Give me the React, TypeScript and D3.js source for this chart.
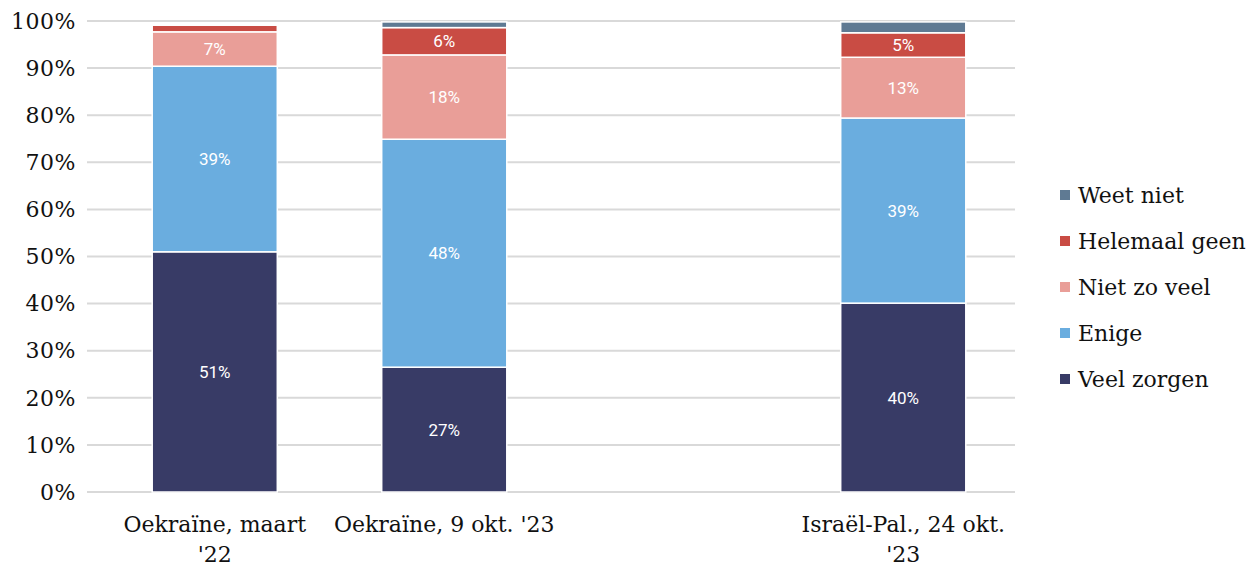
import React, { useRef, useEffect } from 'react'
import * as d3 from 'd3'

// category labels, '\n' marks the line break of the axis label
const categories = ["Oekraïne, maart\n'22", "Oekraïne, 9 okt. '23", '', "Israël-Pal., 24 okt.\n'23"]
const seriesNames = ['Veel zorgen', 'Enige', 'Niet zo veel', 'Helemaal geen', 'Weet niet']
const seriesColors = ['#383b66', '#6aaddf', '#e99e98', '#c94c44', '#5f7a93']
// values per category, same order as seriesNames (null = empty slot)
const veelZorgen = [51, 26.5, null, 40.1]
const enige = [39.4, 48.4, null, 39.3]
const nietZoVeel = [7.3, 17.9, null, 12.9]
const helemaalGeen = [1.4, 5.8, null, 5.2]
const weetNiet = [0, 1.2, null, 2.3]
const yTicks = [0, 10, 20, 30, 40, 50, 60, 70, 80, 90, 100]

const W = 1256
const H = 564
const serif = '"DejaVu Serif", "Liberation Serif", serif'
const fs = '22px'

export default function App() {
  const svgRef = useRef<SVGSVGElement>(null)

  useEffect(() => {
    if (!svgRef.current) return
    const svg = d3.select(svgRef.current)
    svg.selectAll('*').remove()

    const x = d3.scaleBand<string>().domain(categories.map((c, i) => String(i))).range([100, 1018]).padding(0)
    const y = d3.scaleLinear().domain([0, 100]).range([492, 21])
    const barW = x.bandwidth() * 0.545

    // grid
    svg.append('g')
      .selectAll('line')
      .data(yTicks)
      .join('line')
      .attr('x1', 87).attr('x2', 1015)
      .attr('y1', d => y(d)).attr('y2', d => y(d))
      .attr('stroke', '#d9d9d9')
      .attr('stroke-width', 2)

    svg.append('g')
      .selectAll('text')
      .data(yTicks)
      .join('text')
      .attr('x', 76).attr('y', d => y(d))
      .attr('dy', '0.35em')
      .attr('text-anchor', 'end')
      .style('font-family', serif)
      .style('font-size', fs)
      .style('letter-spacing', '0.5px')
      .attr('fill', '#111')
      .text(d => d + '%')

    // stacked bars
    const allSeries = [veelZorgen, enige, nietZoVeel, helemaalGeen, weetNiet]
    const rows = categories.map((c, i) => {
      const r: any = { key: String(i) }
      seriesNames.forEach((s, j) => { r[s] = allSeries[j][i] ?? 0 })
      return r
    })
    const stack = d3.stack<any>().keys(seriesNames)(rows)

    stack.forEach((layer, j) => {
      const g = svg.append('g')
      layer.forEach(seg => {
        const v = seg[1] - seg[0]
        if (v <= 0) return
        const cx = x(seg.data.key)! + x.bandwidth() / 2
        g.append('rect')
          .attr('x', cx - barW / 2)
          .attr('width', barW)
          .attr('y', y(seg[1]))
          .attr('height', y(seg[0]) - y(seg[1]))
          .attr('fill', seriesColors[j])
          .attr('stroke', '#fff')
          .attr('stroke-width', 1.5)
        if (v >= 3) {
          g.append('text')
            .attr('x', cx)
            .attr('y', y((seg[0] + seg[1]) / 2))
            .attr('dy', '0.36em')
            .attr('text-anchor', 'middle')
            .attr('fill', '#fff')
            .style('font-family', 'Roboto, sans-serif')
            .style('font-size', '17px')
            .text(Math.round(v) + '%')
        }
      })
    })

    // x labels
    const xl = svg.append('g')
    categories.forEach((c, i) => {
      if (!c) return
      const cx = x(String(i))! + x.bandwidth() / 2
      const t = xl.append('text')
        .attr('x', cx).attr('y', 532)
        .attr('text-anchor', 'middle')
        .style('font-family', serif)
        .style('font-size', fs)
        .attr('fill', '#111')
      c.split('\n').forEach((ln, k) => {
        t.append('tspan').attr('x', cx).attr('dy', k === 0 ? 0 : '1.36em').text(ln)
      })
    })

    // legend (top to bottom: reverse order)
    const legendItems = seriesNames.map((s, i) => ({ s, c: seriesColors[i] })).reverse()
    const lg = svg.append('g')
    legendItems.forEach((d, i) => {
      const ly = 195 + i * 46
      lg.append('rect').attr('x', 1060).attr('y', ly - 5).attr('width', 10).attr('height', 10).attr('fill', d.c)
      lg.append('text')
        .attr('x', 1078).attr('y', ly)
        .attr('dy', '0.35em')
        .style('font-family', serif)
        .style('font-size', fs)
        .attr('fill', '#111')
        .text(d.s)
    })
  }, [])

  return (
    <div style={{ position: 'fixed', left: 0, top: 0, width: W, height: H, overflow: 'hidden', background: '#fff' }}>
      <svg ref={svgRef} width={W} height={H} style={{ display: 'block' }} />
    </div>
  )
}
